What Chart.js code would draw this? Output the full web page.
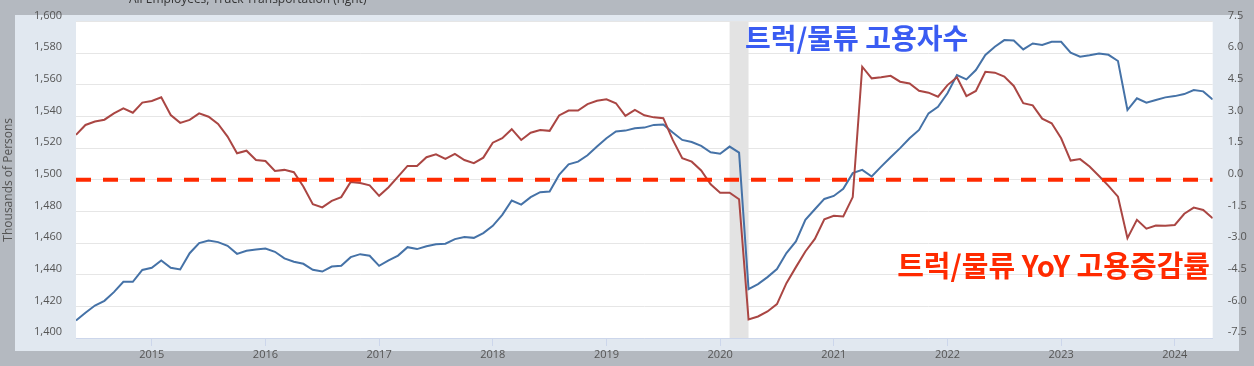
<!DOCTYPE html>
<html>
<head>
<meta charset="utf-8">
<title>Truck Transportation Employment</title>
<script src="https://cdn.jsdelivr.net/npm/chart.js@4.4.0/dist/chart.umd.min.js"></script>
<style>
  html, body { margin: 0; padding: 0; background: #b4b9c0; }
  #wrap { width: 1254px; height: 366px; }
</style>
</head>
<body>
<div id="wrap"><canvas id="canvas" width="1254" height="366"></canvas></div>
<script>
  // monthly data, May 2014 .. May 2024
  const firstMonth = '2014-05';
  const yearTicks = [2015, 2016, 2017, 2018, 2019, 2020, 2021, 2022, 2023, 2024];
  const recessions = [['2020-02', '2020-04']];

  // All Employees, Truck Transportation (thousands, left axis)
  const truckEmployment = [
    1411, 1416, 1420.5, 1423.5, 1429, 1435.5, 1435.5, 1443, 1444.4, 1449, 1444.4, 1443.3,
    1453.6, 1460, 1461.6, 1460.6, 1458.3, 1453.2, 1455.1, 1455.9, 1456.6, 1454.5, 1450.3, 1448.2,
    1446.9, 1443.1, 1442, 1445.2, 1445.6, 1451.1, 1453, 1452, 1445.6, 1449, 1452.1, 1457.4,
    1456.2, 1458, 1459.3, 1459.6, 1462.5, 1463.8, 1463.3, 1466.3, 1470.9, 1477.8, 1486.9, 1484.3,
    1489, 1492.2, 1492.6, 1503.1, 1509.8, 1511.5, 1515.5, 1521, 1526.3, 1530.5, 1531.1, 1532.6,
    1533, 1534.7, 1534.9, 1529.9, 1525.2, 1523.9, 1521.4, 1517.4, 1516.5, 1521, 1517.2, 1430.9,
    1434.1, 1438.5, 1443.6, 1453.7, 1461, 1474.7, 1481.4, 1487.9, 1489.8, 1494.3, 1504.2, 1506.3,
    1502.1, 1508.3, 1514.3, 1520, 1526.3, 1531.5, 1542, 1546.2, 1554.7, 1566.2, 1563.5, 1569.4,
    1578.9, 1584.1, 1588.3, 1588.1, 1582.4, 1586.2, 1585.2, 1587.2, 1587.2, 1580.3, 1577.8, 1578.7,
    1579.9, 1579, 1575.1, 1544.1, 1551.5, 1548.7, 1550.4, 1552.1, 1552.9, 1554.2, 1556.7, 1555.9,
    1550.8
  ];

  // YoY % change (right axis)
  const truckYoY = [
    2.13, 2.6, 2.76, 2.85, 3.15, 3.39, 3.18, 3.66, 3.74, 3.91, 3.07, 2.7,
    2.84, 3.15, 2.99, 2.65, 2.05, 1.26, 1.38, 0.94, 0.89, 0.42, 0.47, 0.36,
    -0.32, -1.16, -1.31, -1.0, -0.82, -0.1, -0.15, -0.26, -0.76, -0.35, 0.15, 0.66,
    0.66, 1.07, 1.21, 0.99, 1.23, 0.94, 0.79, 1.05, 1.76, 1.97, 2.4, 1.89,
    2.23, 2.36, 2.32, 3.05, 3.28, 3.28, 3.59, 3.75, 3.82, 3.63, 3.03, 3.31,
    3.06, 2.96, 2.92, 1.89, 1.02, 0.86, 0.44, -0.21, -0.61, -0.61, -0.92, -6.62,
    -6.48, -6.24, -5.89, -4.9, -4.14, -3.4, -2.8, -1.87, -1.71, -1.74, -0.82, 5.36,
    4.81, 4.86, 4.93, 4.65, 4.57, 4.22, 4.13, 3.94, 4.49, 4.86, 3.97, 4.21,
    5.12, 5.08, 4.89, 4.45, 3.63, 3.53, 2.9, 2.68, 1.97, 0.91, 0.98, 0.63,
    0.18, -0.29, -0.8, -2.77, -1.9, -2.32, -2.17, -2.18, -2.14, -1.61, -1.32, -1.43,
    -1.82
  ];

  const zeroLine = truckYoY.map(() => 0);

  function toYear(m) {
    const [y, mo] = m.split('-').map(Number);
    return y + (mo - 1) / 12;
  }

  const start = toYear(firstMonth);
  const xs = truckEmployment.map((_, i) => start + i / 12);
  const pts = arr => arr.map((v, i) => ({ x: xs[i], y: v }));

  const tickFont = { family: 'Open Sans', size: 11 };
  const tickColor = '#555';

  const backgroundPlugin = {
    id: 'background',
    beforeDraw(chart) {
      const { ctx, chartArea: a } = chart;
      ctx.save();
      ctx.fillStyle = '#b4b9c0';
      ctx.fillRect(0, 0, chart.width, chart.height);
      ctx.fillStyle = '#e1e8f0';
      ctx.fillRect(15, 15, 1224, 336);
      ctx.fillStyle = '#ffffff';
      ctx.fillRect(a.left, a.top, a.right - a.left, a.bottom - a.top);
      ctx.restore();
    }
  };

  const recessionPlugin = {
    id: 'recession',
    beforeDatasetsDraw(chart) {
      const { ctx, chartArea: a, scales: { x } } = chart;
      ctx.save();
      ctx.fillStyle = '#e3e3e3';
      recessions.forEach(([s, e]) => {
        const x0 = x.getPixelForValue(toYear(s));
        const x1 = x.getPixelForValue(toYear(e));
        ctx.fillRect(x0, a.top, x1 - x0, a.bottom - a.top);
      });
      ctx.restore();
    }
  };

  const textPlugin = {
    id: 'texts',
    afterDraw(chart) {
      const ctx = chart.ctx;
      ctx.save();
      ctx.fillStyle = '#333';
      ctx.font = '12px "Open Sans"';
      ctx.textBaseline = 'alphabetic';
      ctx.fillText('All Employees, Truck Transportation (right)', 129, 3);

      ctx.textBaseline = 'middle';
      ctx.font = 'bold 28px "Noto Sans CJK KR"';
      ctx.fillStyle = '#3a5cf2';
      ctx.textAlign = 'left';
      ctx.fillText('트럭/물류 고용자수', 745, 38);

      ctx.font = 'bold 29px "Noto Sans CJK KR"';
      ctx.fillStyle = '#ff2a00';
      ctx.textAlign = 'right';
      ctx.fillText('트럭/물류 YoY 고용증감률', 1210, 266);
      ctx.restore();
    }
  };

  new Chart(document.getElementById('canvas'), {
    type: 'line',
    data: {
      datasets: [
        {
          label: 'zero',
          data: pts(zeroLine),
          yAxisID: 'y1',
          borderColor: '#ff2a00',
          borderWidth: 4,
          borderDash: [15, 12],
          pointRadius: 0
        },
        {
          label: 'All Employees, Truck Transportation (YoY %)',
          data: pts(truckYoY),
          yAxisID: 'y1',
          borderColor: '#aa4643',
          borderWidth: 2,
          pointRadius: 0,
          tension: 0
        },
        {
          label: 'All Employees, Truck Transportation',
          data: pts(truckEmployment),
          yAxisID: 'y',
          borderColor: '#4572a7',
          borderWidth: 2,
          pointRadius: 0,
          tension: 0
        }
      ]
    },
    options: {
      responsive: false,
      animation: false,
      devicePixelRatio: 1,
      layout: { padding: { top: 21.5, left: 0, right: 0, bottom: 0 } },
      plugins: { legend: { display: false }, tooltip: { enabled: false } },
      scales: {
        x: {
          type: 'linear',
          min: toYear('2014-05'),
          max: toYear('2024-05'),
          afterBuildTicks: ax => { ax.ticks = yearTicks.map(v => ({ value: v })); },
          afterFit: ax => { ax.height = 28; },
          ticks: {
            callback: v => String(v),
            font: tickFont, color: tickColor,
            padding: 2, maxRotation: 0, autoSkip: false
          },
          grid: { drawOnChartArea: false, drawTicks: true, tickLength: 8, color: '#ccd6eb' },
          border: { color: '#ccd6eb' }
        },
        y: {
          position: 'left',
          min: 1400, max: 1600,
          afterFit: ax => { ax.width = 76; },
          ticks: {
            stepSize: 20,
            callback: v => v.toLocaleString('en-US'),
            labelOffset: -6, padding: 14,
            font: tickFont, color: tickColor
          },
          grid: { color: '#e6e6e6', drawTicks: false },
          border: { display: false },
          title: {
            display: true, text: 'Thousands of Persons',
            color: '#555', font: { family: 'Open Sans', size: 12 }, padding: 1
          }
        },
        y1: {
          position: 'right',
          min: -7.5, max: 7.5,
          afterFit: ax => { ax.width = 41.3; },
          ticks: {
            stepSize: 1.5,
            callback: v => (Math.abs(v) < 1e-9 ? 0 : v).toFixed(1),
            labelOffset: -6, padding: 15,
            font: tickFont, color: tickColor
          },
          grid: { display: false, drawTicks: false },
          border: { display: false }
        }
      }
    },
    plugins: [backgroundPlugin, recessionPlugin, textPlugin]
  });
</script>
</body>
</html>
